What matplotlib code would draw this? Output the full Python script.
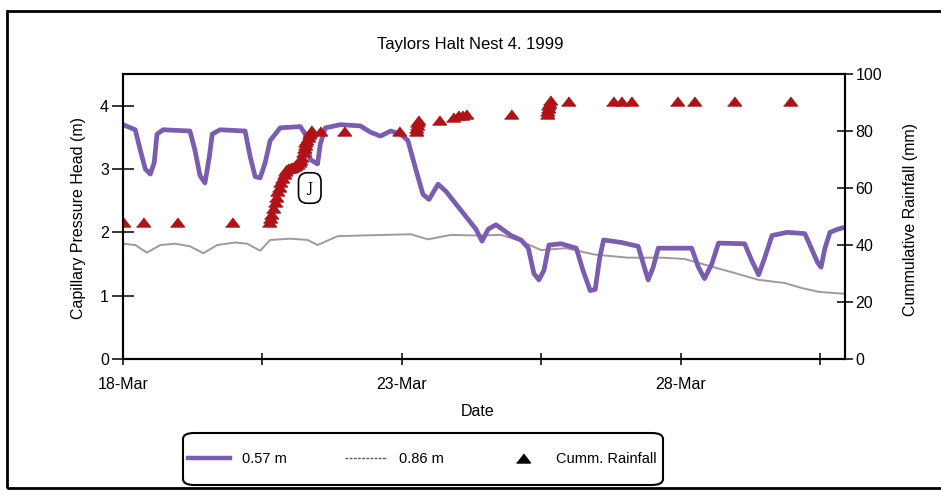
import matplotlib
matplotlib.use("Agg")
import matplotlib.pyplot as plt
from matplotlib.lines import Line2D
from matplotlib.patches import Rectangle, FancyBboxPatch

plt.rcParams['font.family'] = ['Liberation Sans', 'DejaVu Sans']

# days after 18-Mar-1999, capillary pressure head (m) at 0.57 m
days_057 = [0.00, 0.22, 0.31, 0.40, 0.49, 0.56, 0.61, 0.72, 1.20, 1.29, 1.38, 1.47, 1.55, 1.60,
            1.74, 2.19, 2.28, 2.37, 2.46, 2.55, 2.64, 2.82, 3.18, 3.27, 3.36, 3.49, 3.54, 3.63,
            3.90, 4.26, 4.44, 4.62, 4.80, 4.98, 5.11, 5.25, 5.38, 5.49, 5.65, 5.79, 6.06, 6.33,
            6.44, 6.55, 6.69, 6.96, 7.14, 7.27, 7.37, 7.46, 7.55, 7.64, 7.86, 8.13, 8.25, 8.38,
            8.47, 8.55, 8.62, 8.94, 9.24, 9.35, 9.42, 9.51, 9.60, 10.20, 10.32, 10.43, 10.56,
            10.68, 11.15, 11.28, 11.40, 11.51, 11.64, 11.91, 12.23, 12.32, 12.46, 12.52, 12.59,
            12.68, 12.82, 12.95]
head_057 = [3.70, 3.62, 3.30, 3.00, 2.92, 3.10, 3.55, 3.62, 3.60, 3.30, 2.90, 2.78, 3.20, 3.55,
            3.62, 3.60, 3.20, 2.88, 2.86, 3.10, 3.45, 3.65, 3.67, 3.55, 3.15, 3.08, 3.40, 3.65,
            3.70, 3.68, 3.58, 3.52, 3.60, 3.55, 3.45, 3.00, 2.60, 2.52, 2.76, 2.65, 2.35, 2.05,
            1.86, 2.05, 2.12, 1.95, 1.88, 1.75, 1.35, 1.25, 1.40, 1.80, 1.82, 1.75, 1.40, 1.08,
            1.10, 1.60, 1.88, 1.84, 1.78, 1.45, 1.25, 1.45, 1.75, 1.75, 1.45, 1.27, 1.50,
            1.83, 1.82, 1.55, 1.33, 1.60, 1.95, 2.00, 1.98, 1.80, 1.52, 1.45, 1.75,
            2.00, 2.05, 2.08]

# capillary pressure head (m) at 0.86 m
days_086 = [0.00, 0.22, 0.43, 0.67, 0.94, 1.20, 1.44, 1.69, 2.01, 2.23, 2.46, 2.64, 3.00, 3.31,
            3.49, 3.85, 4.26, 4.71, 5.16, 5.47, 5.88, 6.37, 6.78, 7.14, 7.50, 7.95, 8.45, 9.06,
            9.66, 10.07, 10.43, 10.92, 11.40, 11.87, 12.18, 12.48, 12.95]
head_086 = [1.82, 1.80, 1.68, 1.80, 1.82, 1.78, 1.67, 1.80, 1.84, 1.82, 1.71, 1.88, 1.90, 1.88,
            1.80, 1.94, 1.95, 1.96, 1.97, 1.89, 1.96, 1.95, 1.96, 1.86, 1.72, 1.75, 1.65, 1.60,
            1.60, 1.58, 1.49, 1.37, 1.25, 1.20, 1.12, 1.06, 1.03]

# cumulative rainfall (mm), dense readings during the 20/21-Mar storm
days_rain = [0.00, 0.36, 0.97, 1.96,
             2.61, 2.64, 2.66, 2.69, 2.72, 2.75, 2.77, 2.80, 2.82, 2.85, 2.88, 2.90, 2.93, 2.96,
             2.99, 3.02, 3.04, 3.07, 3.09, 3.12, 3.15, 3.18, 3.20, 3.22, 3.24, 3.26, 3.27, 3.29,
             3.31, 3.33, 3.35, 3.38,
             3.54, 3.96, 4.95,
             5.25, 5.26, 5.27, 5.28, 5.29, 5.67,
             5.92, 6.00, 6.08, 6.15, 6.96,
             7.60, 7.61, 7.62, 7.63, 7.64, 7.65, 7.99,
             8.79, 8.94, 9.12, 9.93, 10.25, 10.95, 11.96]
rain = [48, 48, 48, 48,
        48, 49.5, 51, 53, 55, 57, 59, 60.5, 62, 63.5, 65, 66, 66.5, 67,
        67, 67.2, 67.5, 67.8, 68, 68.5, 69, 70, 71, 72.5, 74, 75, 76, 77,
        78, 79, 79.5, 80.5,
        80, 80, 80,
        80, 81, 82, 83, 84, 84,
        85, 85.5, 85.5, 86, 86,
        86, 87, 88, 89, 90, 91, 90.5,
        90.5, 90.5, 90.5, 90.5, 90.5, 90.5, 90.5]

tick_days = [0, 2.5, 5, 7.5, 10, 12.5]
tick_labels = ['18-Mar', '', '23-Mar', '', '28-Mar', '']

purple = '#7a5cb0'
grey = '#a3969c'
red = '#b01218'
# short, wide triangle like the Excel marker
tri = [(-1, -0.65), (1, -0.65), (0, 0.65)]

fig = plt.figure(figsize=(9.41, 4.95), dpi=100)
ax = fig.add_axes([0.1307, 0.2747, 0.898 - 0.1307, 0.8505 - 0.2747])
ax2 = ax.twinx()

ax.plot(days_086, head_086, color=grey, lw=1.4)
ax.plot(days_057, head_057, color=purple, lw=3.4)
ax2.plot(days_rain, rain, linestyle='none', marker=tri, ms=10, color=red)

ax.set_xlim(0, 12.95)
ax.set_ylim(0, 4.5)
ax2.set_ylim(0, 100)
ax.set_yticks([0, 1, 2, 3, 4])
ax2.set_yticks([0, 20, 40, 60, 80, 100])
ax.set_xticks(tick_days)
ax.set_xticklabels(tick_labels)

ax.tick_params(axis='y', direction='inout', length=16, width=1.1, labelsize=11.5, pad=2)
ax.tick_params(axis='x', direction='inout', length=8, width=1.1, labelsize=11.5, pad=9)
ax2.tick_params(axis='y', direction='inout', length=11, width=1.1, labelsize=11.5, pad=2)
for a in (ax, ax2):
    for s in a.spines.values():
        s.set_linewidth(1.5)
        s.set_color('black')

# "J" marker box
ax.text(3.35, 2.70, 'J', family='DejaVu Serif', fontsize=9, ha='center', va='center',
        bbox=dict(boxstyle='round,pad=0.7', fc='white', ec='black', lw=1.2))

fig.text(0.4995, 0.911, 'Taylors Halt Nest 4. 1999', ha='center', va='center', fontsize=12)
fig.text(78 / 941, 1 - 218 / 495, 'Capillary Pressure Head (m)', rotation=90,
         ha='center', va='center', fontsize=11.5)
fig.text(910 / 941, 1 - 220 / 495, 'Cummulative Rainfall (mm)', rotation=90,
         ha='center', va='center', fontsize=11.5)
fig.text(478 / 941, 1 - 412 / 495, 'Date', ha='center', va='center', fontsize=11.5)

# legend box drawn by hand so its size matches the original
fig.patches.append(FancyBboxPatch((183 / 941, 1 - 485 / 495), 480 / 941, 52 / 495,
                                  boxstyle='round,pad=0,rounding_size=0.012',
                                  transform=fig.transFigure, fill=False, ec='black', lw=1.5))
handles = [Line2D([], [], color=purple, lw=3.2),
           Line2D([], [], color='#555555', lw=1, dashes=(2, 1)),
           Line2D([], [], linestyle='none', marker=tri, ms=10, color='black')]
fig.legend(handles, ['0.57 m', '0.86 m', 'Cumm. Rainfall'], loc='center left',
           bbox_to_anchor=(188 / 941, 1 - 459 / 495), ncol=3, fontsize=10.5,
           handlelength=2.9, handletextpad=0.8, columnspacing=4.0,
           borderpad=0, borderaxespad=0, frameon=False)

# outer border of the scanned page
fig.patches.append(Rectangle((7 / 941, 7 / 495), 1.02, 1 - 18 / 495, transform=fig.transFigure,
                             fill=False, ec='black', lw=2))

fig.savefig('out.png', dpi=100)
